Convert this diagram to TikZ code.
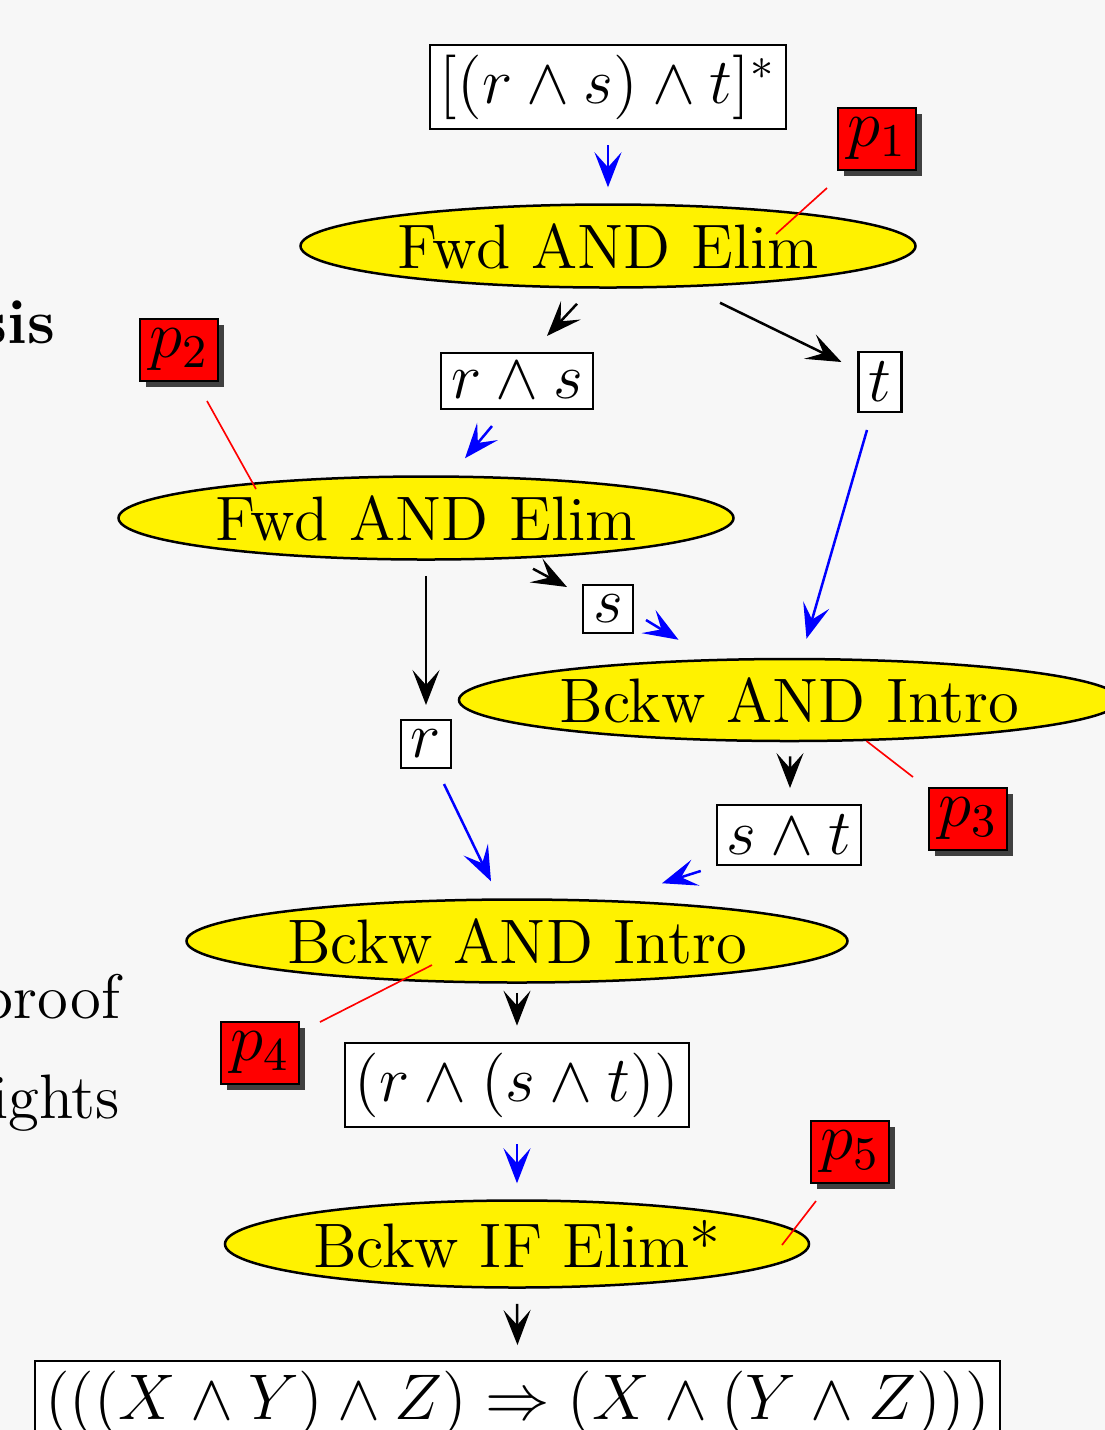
\RequirePackage{fix-cm}
\documentclass[tikz,border=0pt]{standalone}
\usetikzlibrary{shapes.geometric,shadows,arrows.meta,calc}
\definecolor{bg}{RGB}{247,247,247}
\tikzset{
 formula/.style={draw, fill=white, inner sep=2pt, line width=0.45pt, font=\fontsize{12.9}{15}\selectfont},
 rule/.style={ellipse, draw, fill=yellow, inner sep=0pt, line width=0.5pt},
 pbox/.style={draw, fill=red, inner sep=0.5pt, minimum width=15.6pt, minimum height=12.4pt,
   font=\fontsize{13.4}{16}\selectfont,
   drop shadow={shadow xshift=1.2pt, shadow yshift=-1.2pt, fill=black!75, opacity=1}},
 pline/.style={red, line width=0.33pt},
 tipped/.style={-{Stealth[length=7pt,width=5.4pt,inset=3pt]}, line width=0.5pt},
 blu/.style={tipped, blue},
 blk/.style={tipped, black},
 side/.style={anchor=base east, inner sep=0pt},
}
\begin{document}
\begin{tikzpicture}[x=0.2pt,y=-0.2pt,font=\fontsize{12.57}{15}\selectfont]
\useasboundingbox (0,0) rectangle (1105,1430);
\clip (0,0) rectangle (1105,1430);
\fill[bg] (0,0) rectangle (1105,1430);

% side texts
\node[side, font=\fontsize{12.57}{15}\selectfont\bfseries] (sis) at (56,343) {sis};
\node[side] (proof) at (121,1018) {proof};
\node[side] (ights) at (121,1118) {ights};

% nodes
\node[formula] (top) at (608,87) {$[(r\wedge s)\wedge t]^*$};
\node[rule, minimum width=123pt, minimum height=16.6pt] (e1) at (608,246) {Fwd AND Elim};
\node[formula] (rs) at (517,381) {$r\wedge s$};
\node[formula] (t) at (880,382) {$t$};
\node[rule, minimum width=123pt, minimum height=16.6pt] (e2) at (426,518) {Fwd AND Elim};
\node[formula] (s) at (608,609) {$s$};
\node[rule, minimum width=132.2pt, minimum height=16.4pt] (e3) at (789.5,700) {Bckw AND Intro};
\node[formula] (r) at (426,744) {$r$};
\node[formula] (st) at (789,835) {$s\wedge t$};
\node[rule, minimum width=132.2pt, minimum height=16.6pt] (e4) at (517,941) {Bckw AND Intro};
\node[formula] (rst) at (517,1085) {$(r\wedge(s\wedge t))$};
\node[rule, minimum width=116.8pt, minimum height=17.4pt] (e5) at (517,1244) {Bckw IF Elim*};
\node[formula, anchor=north] (goal) at (517.5,1360)
  {$(((X\wedge Y)\wedge Z)\Rightarrow(X\wedge(Y\wedge Z)))$};

% labels
\node[pbox] (p1) at (877,139) {$p_1$};
\node[pbox] (p2) at (179,350) {$p_2$};
\node[pbox] (p3) at (968,819) {$p_3$};
\node[pbox] (p4) at (260,1053) {$p_4$};
\node[pbox] (p5) at (850,1152) {$p_5$};

% label pointers
\draw[pline] ($(p1.south west)+(-10,17)$) -- ($(e1.center)+(168,-12)$);
\draw[pline] ($(p2.south)+(28,19)$) -- ($(e2.center)+(-170,-29)$);
\draw[pline] ($(e3.center)+(77,41)$) -- ($(p3.north west)+(-15,-10)$);
\draw[pline] ($(e4.center)+(-85,24)$) -- ($(p4.north east)+(20,1)$);
\draw[pline] ($(p5.south)+(-34,17)$) -- ($(e5.center)+(265,1)$);

% connectors
\draw[blu] ($(top.south)+(0,15)$) -- ($(e1.north)+(0,-16)$);
\draw[blk] ($(e1.south)+(-31,15)$) -- ($(rs.north)+(30,-16)$);
\draw[blk] ($(e1.south)+(112,14)$) -- ($(t.west)+(-16,-20)$);
\draw[blu] ($(rs.south)+(-25,16)$) -- ($(e2.north)+(39,-17)$);
\draw[blu] ($(t.south)+(-13,17)$) -- ($(e3.north)+(17,-19)$);
\draw[blk] ($(e2.south)+(107,8)$) -- ($(s.west)+(-15,-22)$);
\draw[blu] ($(s.east)+(12,11)$) -- ($(e3.north)+(-111,-18)$);
\draw[blk] ($(e2.south)+(0,15)$) -- ($(r.north)+(0,-14)$);
\draw[blk] ($(e3.south)+(0.5,14)$) -- ($(st.north)+(1,-16)$);
\draw[blu] ($(st.south west)+(-15,5)$) -- ($(e4.north)+(145,-15)$);
\draw[blu] ($(r.south)+(18,15)$) -- ($(e4.north)+(-26,-17)$);
\draw[blk] ($(e4.south)+(0,9)$) -- ($(rst.north)+(0,-16)$);
\draw[blu] ($(rst.south)+(0,16)$) -- ($(e5.north)+(0,-16)$);
\draw[blk] ($(e5.south)+(0,15)$) -- ($(goal.north)+(0,-15)$);
\end{tikzpicture}
\end{document}
